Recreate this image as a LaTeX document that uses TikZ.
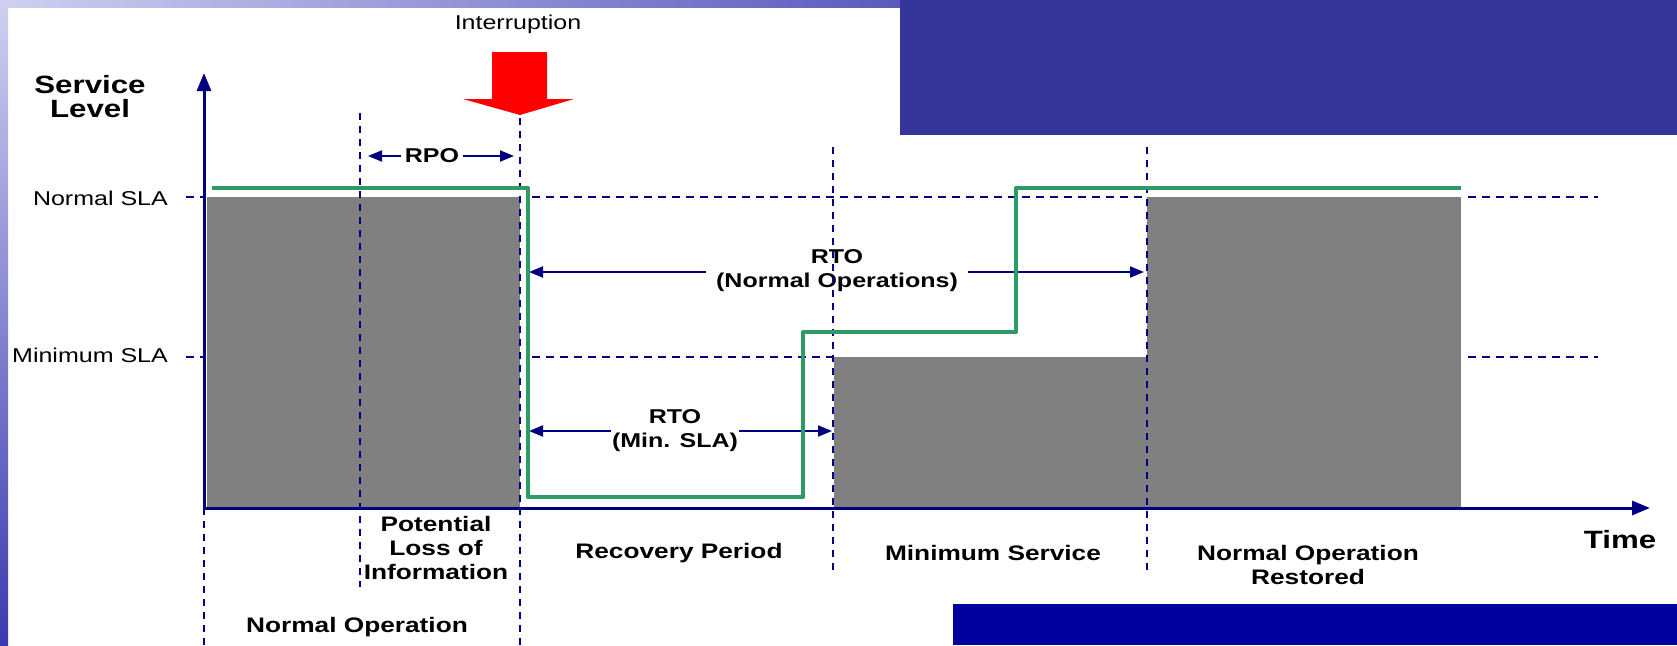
\documentclass[tikz,border=0pt]{standalone}
\usepackage{fontspec}
\setmainfont{Liberation Sans}[FakeStretch=1.25]
\usetikzlibrary{arrows.meta}
\definecolor{navyx}{HTML}{000080}
\definecolor{greenx}{HTML}{2F9A68}
\definecolor{grayx}{HTML}{808080}
\definecolor{topblue}{HTML}{35359A}
\definecolor{botblue}{HTML}{0000A0}
\definecolor{lav}{HTML}{D0D0F0}
\definecolor{lavdark}{HTML}{3A3AB0}
\definecolor{redx}{HTML}{FF0000}
\begin{document}
\begin{tikzpicture}[x=1pt,y=-1pt,
  hdash/.style={navyx, line width=1.6pt, dash pattern=on 8pt off 6pt},
  vdash/.style={navyx, line width=1.6pt, dash pattern=on 7pt off 6pt},
  axisline/.style={navyx, line width=3pt, -{Triangle[length=18pt,width=14pt]}},
  dimline/.style={navyx, line width=2pt, {Triangle[length=14pt,width=11pt]}-{Triangle[length=14pt,width=11pt]}},
  lbl/.style={font=\fontsize{21}{24}\selectfont\bfseries, align=center, inner sep=0pt},
  dimlbl/.style={font=\fontsize{20}{24}\selectfont\bfseries, align=center, fill=white, inner xsep=4pt, inner ysep=0pt},
  reg/.style={font=\fontsize{20}{24}\selectfont, inner sep=0pt},
  big/.style={font=\fontsize{25}{24}\selectfont\bfseries, align=center, inner sep=0pt},
  level/.style={greenx, line width=4pt, line join=round},
  bar/.style={fill=grayx, draw=none}
]
\useasboundingbox (0,0) rectangle (1677,645);
% background frame
\fill[white] (0,0) rectangle (1677,645);
\shade[left color=lav, right color={rgb,255:red,90;green,90;blue,190}] (0,0) rectangle (900,7);
\shade[top color=lav, bottom color=lavdark] (0,0) rectangle (8,645);
\fill[topblue] (900,0) rectangle (1677,135);
\fill[botblue] (953,604) rectangle (1677,645);

% service bars
\fill[bar] (207,197) rectangle (520,508);
\fill[bar] (834,357) rectangle (1147,508);
\fill[bar] (1147,197) rectangle (1461,508);

% coordinates
\coordinate (O) at (204,508);
\coordinate (Ytop) at (204,73);
\coordinate (Xend) at (1650,508);

% level labels
\node[reg, anchor=east] (nsla) at (168,198) {Normal SLA};
\node[reg, anchor=east] (msla) at (168,355) {Minimum SLA};

% horizontal dashed reference lines
\draw[hdash] (186,197) -- (204,197);
\draw[hdash] (532,197) -- (1147,197);
\draw[hdash] (1468,197) -- (1598,197);
\draw[hdash] (186,357) -- (204,357);
\draw[hdash] (532,357) -- (833,357);
\draw[hdash] (1468,357) -- (1598,357);

% dimension arrows
\coordinate (rpoL) at (368,156);
\coordinate (rpoR) at (514,156);
\draw[dimline] (rpoL) -- (rpoR);
\node[dimlbl] (rpo) at (432,156) {RPO};

\coordinate (rtoNL) at (529,272);
\coordinate (rtoNR) at (1144,272);
\draw[dimline] (rtoNL) -- (rtoNR);
\node[dimlbl, inner xsep=10pt] (rton) at (837,271) {RTO\\(Normal Operations)};

\coordinate (rtoML) at (529,431);
\coordinate (rtoMR) at (832,431);
\draw[dimline] (rtoML) -- (rtoMR);
\node[dimlbl, inner xsep=1pt] (rtom) at (675,431) {RTO\\(Min. SLA)};

% vertical dashed period separators
\draw[vdash] (204,508) -- (204,645);
\draw[vdash] (360,113) -- (360,587);
\draw[vdash] (520,118) -- (520,645);
\draw[vdash] (833,147) -- (833,572);
\draw[vdash] (1147,147) -- (1147,572);

% service level curve
\draw[level] (212,188) -- (528,188) -- (528,497) -- (803,497) -- (803,332) -- (1016,332) -- (1016,188) -- (1461,188);

% axes
\draw[axisline] (O) -- (Ytop);
\draw[axisline] (O) -- (Xend);

% axis titles
\node[big] (slev) at (90,97) {Service\\Level};
\node[big] (time) at (1620,540) {Time};

% interruption
\node[reg] (intr) at (518,24) {Interruption};
\fill[redx] (492,52) -- (547,52) -- (547,99) -- (574,99) -- (520,115) -- (463,99) -- (492,99) -- cycle;

% period labels
\node[lbl] (plost) at (436,548) {Potential\\Loss of\\Information};
\node[lbl] (normop) at (357,627) {Normal Operation};
\node[lbl] (recov) at (679,553) {Recovery Period};
\node[lbl] (minserv) at (993,553) {Minimum Service};
\node[lbl] (restored) at (1308,565) {Normal Operation\\Restored};
\end{tikzpicture}
\end{document}
